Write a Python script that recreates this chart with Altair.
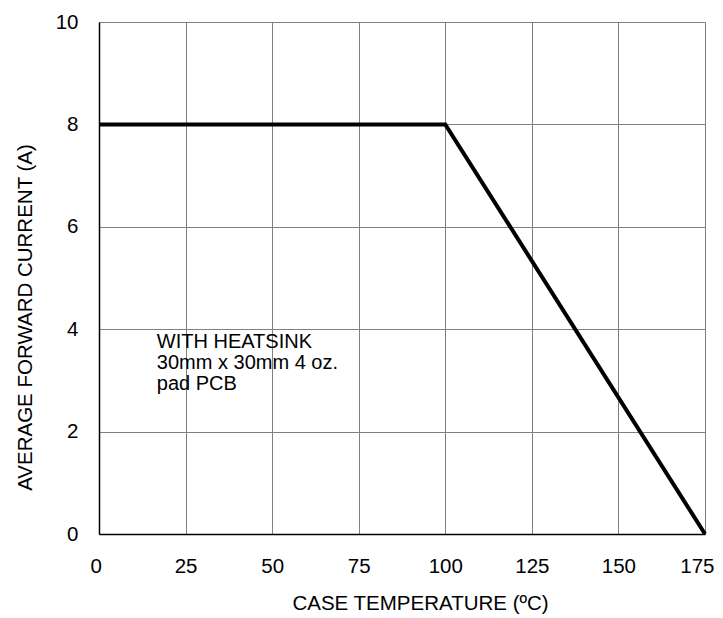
import altair as alt
import pandas as pd

temps = [0, 100, 175]
current = [8, 8, 0]
x_ticks = [0, 25, 50, 75, 100, 125, 150, 175]
y_ticks = [0, 2, 4, 6, 8, 10]
note_lines = ["WITH HEATSINK", "30mm x 30mm 4 oz.", "pad PCB"]

FONT = "Liberation Sans"
FS = 20.5

df = pd.DataFrame({"t": temps, "i": current})
note = pd.DataFrame({"t": [16.7], "i": [3.64], "txt": [note_lines]})

xs = alt.Scale(domain=[0, 175], nice=False, zero=False)
ys = alt.Scale(domain=[0, 10], nice=False, zero=False)

line = alt.Chart(df).mark_line(color="black", strokeWidth=4, strokeCap="butt", clip=False).encode(
    x=alt.X("t:Q", scale=xs, axis=alt.Axis(
        values=x_ticks, title="CASE TEMPERATURE (ºC)", grid=True, gridColor="#808080",
        gridWidth=1, ticks=False, domainColor="black", domainWidth=1.5,
        labelFlush=True, labelFlushOffset=9,
        labelFont=FONT, labelFontSize=FS, labelColor="black", labelPadding=38,
        labelBaseline="alphabetic",
        titleFont=FONT, titleFontSize=FS, titleFontWeight="normal", titleColor="black",
        titleX=321, titleY=75, titleAlign="center", titleBaseline="alphabetic")),
    y=alt.Y("i:Q", scale=ys, axis=alt.Axis(
        values=y_ticks, title="AVERAGE FORWARD CURRENT (A)", grid=True, gridColor="#808080",
        gridWidth=1, ticks=False, domainColor="black", domainWidth=1.5, labelFlush=False,
        labelFont=FONT, labelFontSize=FS, labelColor="black", labelPadding=21,
        titleFont=FONT, titleFontSize=FS, titleFontWeight="normal", titleColor="black",
        titleAngle=270, titleX=-68, titleY=295, titleAlign="center", titleBaseline="alphabetic")),
)

text = alt.Chart(note).mark_text(
    align="left", baseline="alphabetic", font=FONT, fontSize=20, color="black", lineHeight=21
).encode(x=alt.X("t:Q", scale=xs), y=alt.Y("i:Q", scale=ys), text="txt")

chart = (line + text).properties(
    width=606, height=512,
    autosize=alt.AutoSizeParams(type="none"),
    padding={"left": 91, "top": 14, "right": 10, "bottom": 80},
).configure_view(stroke="black", strokeWidth=1.5).configure(background="white")

chart.save("out.html", embed_options={"renderer": "svg", "actions": False})
